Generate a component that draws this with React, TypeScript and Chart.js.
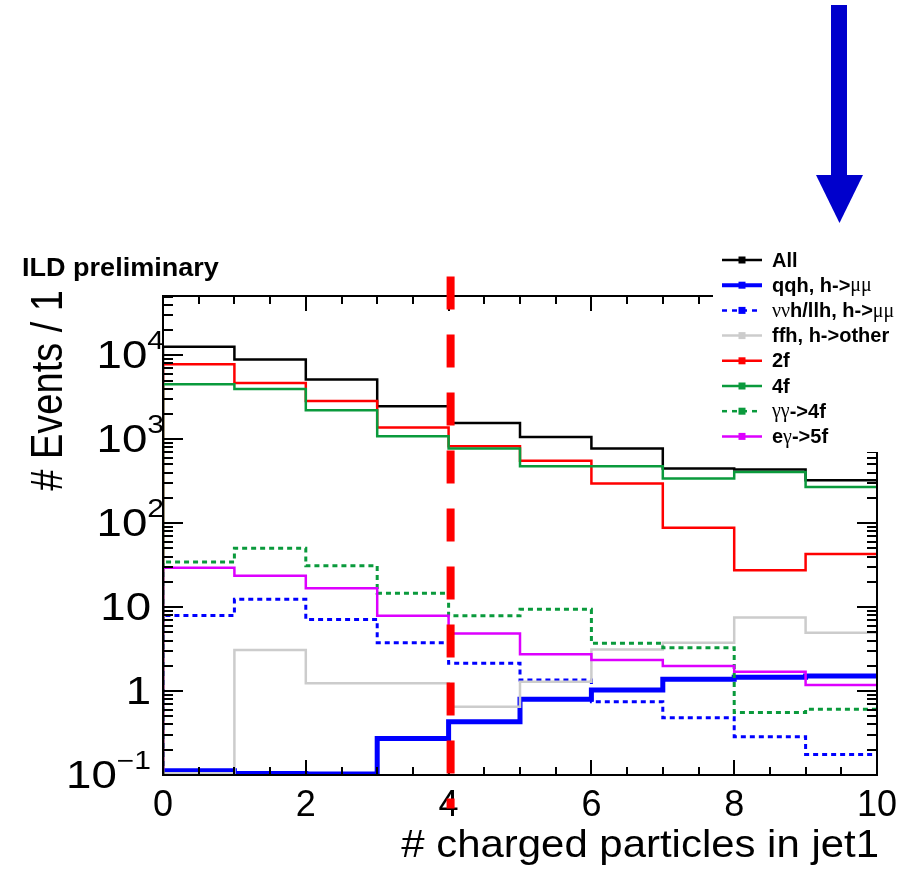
import React, { useEffect, useRef } from "react";
import { Chart, registerables } from "chart.js";

Chart.register(...registerables);

// ---- data ----
const BIN_EDGES = [0, 1, 2, 3, 4, 5, 6, 7, 8, 9, 10];
const ALL = [12600, 8900, 5140, 2470, 1560, 1065, 774, 448, 436, 325];
const QQH_MUMU = [0.112, 0.104, 0.103, 0.273, 0.431, 0.796, 1.03, 1.38, 1.46, 1.51];
const NNH_LLH_MUMU = [7.96, 12.4, 7.13, 3.76, 2.14, 1.35, 0.746, 0.481, 0.286, 0.176];
const FFH_OTHER = [0.105, 3.08, 1.24, 1.24, 0.65, 1.29, 3.13, 3.76, 7.54, 4.95];
const BKG_2F = [7820, 4680, 2860, 1377, 826, 552, 297, 88, 27.5, 42.8];
const BKG_4F = [4520, 3970, 2213, 1087, 774, 477, 477, 341, 408, 270];
const GG_4F = [34.4, 50.4, 31.0, 14.6, 7.87, 9.4, 3.7, 3.27, 0.557, 0.605];
const EG_5F = [29.4, 23.6, 16.8, 7.87, 4.86, 2.75, 2.34, 1.99, 1.7, 1.18];

const SERIES_LABELS = [
  "All",
  "qqh, h->μμ",
  "ννh/llh, h->μμ",
  "ffh, h->other",
  "2f",
  "4f",
  "γγ->4f",
  "eγ->5f",
];
const SERIES_VALUES = [ALL, QQH_MUMU, NNH_LLH_MUMU, FFH_OTHER, BKG_2F, BKG_4F, GG_4F, EG_5F];

const X_MIN = 0;
const X_MAX = 10;
const Y_MIN = 0.1;
const Y_MAX = 50800;
const X_TICK_VALUES = [0, 2, 4, 6, 8, 10];
const X_TICK_LABELS = ["0", "2", "4", "6", "8", "10"];
const Y_TICK_VALUES = [0.1, 1, 10, 100, 1000, 10000];
const Y_TICK_BASES = ["10", "1", "10", "10", "10", "10"];
const Y_TICK_EXPONENTS = ["−1", "", "", "2", "3", "4"];
const CUT_VALUE = 4;
const CUT_LINE_TOP = 87000;
const CUT_LINE_BOTTOM = 0.04;

const X_TITLE = "# charged particles in jet1";
const Y_TITLE = "# Events / 1";
const TAG = "ILD preliminary";

// ---- styles ----
const STYLES = [
  { color: "#000000", width: 2.5, dash: [] as number[] },
  { color: "#0000ff", width: 5, dash: [] as number[] },
  { color: "#0000ff", width: 3, dash: [5, 4] },
  { color: "#cccccc", width: 2.5, dash: [] as number[] },
  { color: "#ff0000", width: 2.5, dash: [] as number[] },
  { color: "#0a9a3c", width: 2.5, dash: [] as number[] },
  { color: "#0a9a3c", width: 3, dash: [5, 4] },
  { color: "#dd00ff", width: 2.5, dash: [] as number[] },
];

const SANS = '"Liberation Sans", Arial, Helvetica, sans-serif';
const SERIF = '"Liberation Serif", "DejaVu Serif", serif';

function histPoints(values: number[]) {
  const pts: { x: number; y: number }[] = [{ x: BIN_EDGES[0], y: Y_MIN }];
  values.forEach((v, i) => pts.push({ x: BIN_EDGES[i], y: v }));
  pts.push({ x: BIN_EDGES[values.length], y: values[values.length - 1] });
  return pts;
}

function textW(ctx: CanvasRenderingContext2D, font: string, t: string) {
  ctx.font = font;
  return ctx.measureText(t).width;
}

function fillScaled(
  ctx: CanvasRenderingContext2D,
  t: string,
  x: number,
  y: number,
  font: string,
  sx: number,
  align: CanvasTextAlign
) {
  ctx.save();
  ctx.font = font;
  ctx.textAlign = align;
  ctx.translate(x, y);
  ctx.scale(sx, 1);
  ctx.fillText(t, 0, 0);
  ctx.restore();
}

function drawMixed(ctx: CanvasRenderingContext2D, text: string, x: number, y: number, size: number) {
  const parts = text.split(/([\u0370-\u03FF]+)/).filter((p) => p.length > 0);
  let cx = x;
  for (const p of parts) {
    const greek = /[\u0370-\u03FF]/.test(p);
    ctx.font = greek ? `${size}px ${SERIF}` : `bold ${size}px ${SANS}`;
    ctx.fillText(p, cx, y);
    cx += ctx.measureText(p).width;
  }
}

const decor = {
  id: "decor",
  afterDatasetsDraw(chart: any) {
    const { ctx, chartArea: a, scales } = chart;
    const xs = scales.x;
    const ys = scales.y;
    ctx.save();

    // frame
    ctx.strokeStyle = "#000";
    ctx.lineWidth = 2;
    ctx.setLineDash([]);
    ctx.strokeRect(a.left, a.top, a.right - a.left, a.bottom - a.top);

    // ticks
    ctx.beginPath();
    for (let k = 1; k < (X_MAX - X_MIN) * 2; k++) {
      const v = X_MIN + k * 0.5;
      const px = Math.round(xs.getPixelForValue(v));
      const len = Math.abs(v % 2) < 1e-9 ? 15 : 8;
      ctx.moveTo(px, a.bottom);
      ctx.lineTo(px, a.bottom - len);
      ctx.moveTo(px, a.top);
      ctx.lineTo(px, a.top + len);
    }
    for (let d = -1; d <= 5; d++) {
      for (let m = 1; m <= 9; m++) {
        const v = m * Math.pow(10, d);
        if (v < Y_MIN * 0.999 || v > Y_MAX) continue;
        const py = Math.round(ys.getPixelForValue(v));
        const len = m === 1 ? 20 : 10;
        ctx.moveTo(a.left, py);
        ctx.lineTo(a.left + len, py);
        ctx.moveTo(a.right, py);
        ctx.lineTo(a.right - len, py);
      }
    }
    ctx.stroke();

    // tick labels
    ctx.fillStyle = "#000";
    ctx.textBaseline = "alphabetic";
    const xFont = `36px ${SANS}`;
    X_TICK_VALUES.forEach((v, i) => {
      fillScaled(ctx, X_TICK_LABELS[i], xs.getPixelForValue(v), a.bottom + 41, xFont, 1, "center");
    });
    const baseFont = `38px ${SANS}`;
    const expFont = `25px ${SANS}`;
    const SX = 1.2;
    Y_TICK_VALUES.forEach((v, i) => {
      const base = Y_TICK_BASES[i];
      const exp = Y_TICK_EXPONENTS[i];
      const wb = textW(ctx, baseFont, base) * SX;
      const we = exp ? textW(ctx, expFont, exp) * SX : 0;
      const positiveExp = exp !== "" && exp[0] !== "−";
      const right = positiveExp ? a.left + 1 : a.left - 12;
      const x0 = right - wb - we;
      const py = ys.getPixelForValue(v);
      fillScaled(ctx, base, x0, py + 13, baseFont, SX, "left");
      if (exp) fillScaled(ctx, exp, x0 + wb, py - 6, expFont, SX, "left");
    });

    // axis titles
    fillScaled(ctx, X_TITLE, a.right + 2, a.bottom + 82, `39px ${SANS}`, 1.075, "right");
    ctx.save();
    ctx.translate(62, a.top - 6);
    ctx.rotate(-Math.PI / 2);
    ctx.scale(1, 1.15);
    ctx.font = `38px ${SANS}`;
    ctx.textAlign = "right";
    ctx.fillText(Y_TITLE, 0, 0);
    ctx.restore();

    // cut line
    ctx.strokeStyle = "#ff0000";
    ctx.lineWidth = 8;
    ctx.setLineDash([33, 25]);
    ctx.lineDashOffset = 0;
    ctx.lineCap = "butt";
    const cx = xs.getPixelForValue(CUT_VALUE) + 2;
    ctx.beginPath();
    ctx.moveTo(cx, ys.getPixelForValue(CUT_LINE_TOP));
    ctx.lineTo(cx, ys.getPixelForValue(CUT_LINE_BOTTOM));
    ctx.stroke();
    ctx.setLineDash([]);

    // legend
    const lx = 713;
    const ly = 240;
    ctx.fillStyle = "#fff";
    ctx.fillRect(lx, ly, chart.width - lx, a.top + 156 - ly);
    SERIES_LABELS.forEach((lab, i) => {
      const st = STYLES[i];
      const y = 260 + i * 25.2;
      ctx.strokeStyle = st.color;
      ctx.lineWidth = i === 1 ? 4 : 2.5;
      ctx.setLineDash(st.dash.length ? [5, 5] : []);
      ctx.beginPath();
      ctx.moveTo(722, y);
      ctx.lineTo(762, y);
      ctx.stroke();
      ctx.setLineDash([]);
      ctx.fillStyle = st.color;
      ctx.fillRect(738.5, y - 3.5, 7, 7);
      ctx.fillStyle = "#000";
      ctx.textAlign = "left";
      ctx.textBaseline = "middle";
      drawMixed(ctx, lab, 772, y + 1, 20);
    });

    // tag
    ctx.textBaseline = "alphabetic";
    ctx.fillStyle = "#000";
    fillScaled(ctx, TAG, 22, 276, `bold 26px ${SANS}`, 1.04, "left");

    // arrow annotation
    ctx.fillStyle = "#0000cc";
    ctx.fillRect(831, 5, 16, 171);
    ctx.beginPath();
    ctx.moveTo(816, 175);
    ctx.lineTo(863, 175);
    ctx.lineTo(839.5, 223);
    ctx.closePath();
    ctx.fill();

    ctx.restore();
  },
};

export default function App() {
  const ref = useRef<HTMLCanvasElement>(null);
  useEffect(() => {
    const canvas = ref.current;
    if (!canvas) return;
    const n = SERIES_VALUES.length;
    const datasets = SERIES_VALUES.map((vals, i) => ({
      label: SERIES_LABELS[i],
      data: histPoints(vals),
      borderColor: STYLES[i].color,
      backgroundColor: STYLES[i].color,
      borderWidth: STYLES[i].width,
      borderDash: STYLES[i].dash,
      borderCapStyle: "butt" as const,
      borderJoinStyle: "miter" as const,
      stepped: "before" as const,
      pointRadius: 0,
      fill: false,
      order: n - i,
    }));
    const chart = new Chart(canvas, {
      type: "line",
      data: { datasets },
      options: {
        responsive: false,
        animation: false,
        events: [],
        layout: { padding: { left: 163, top: 296, right: 34, bottom: 105 } },
        scales: {
          x: { type: "linear", min: X_MIN, max: X_MAX, display: false },
          y: { type: "logarithmic", min: Y_MIN, max: Y_MAX, display: false },
        },
        plugins: {
          legend: { display: false },
          tooltip: { enabled: false },
          title: { display: false },
        },
      },
      plugins: [decor],
    } as any);
    return () => chart.destroy();
  }, []);
  return (
    <div style={{ position: "absolute", left: 0, top: 0, width: 911, height: 880, background: "#fff" }}>
      <canvas ref={ref} width={911} height={880} style={{ display: "block" }} />
    </div>
  );
}
